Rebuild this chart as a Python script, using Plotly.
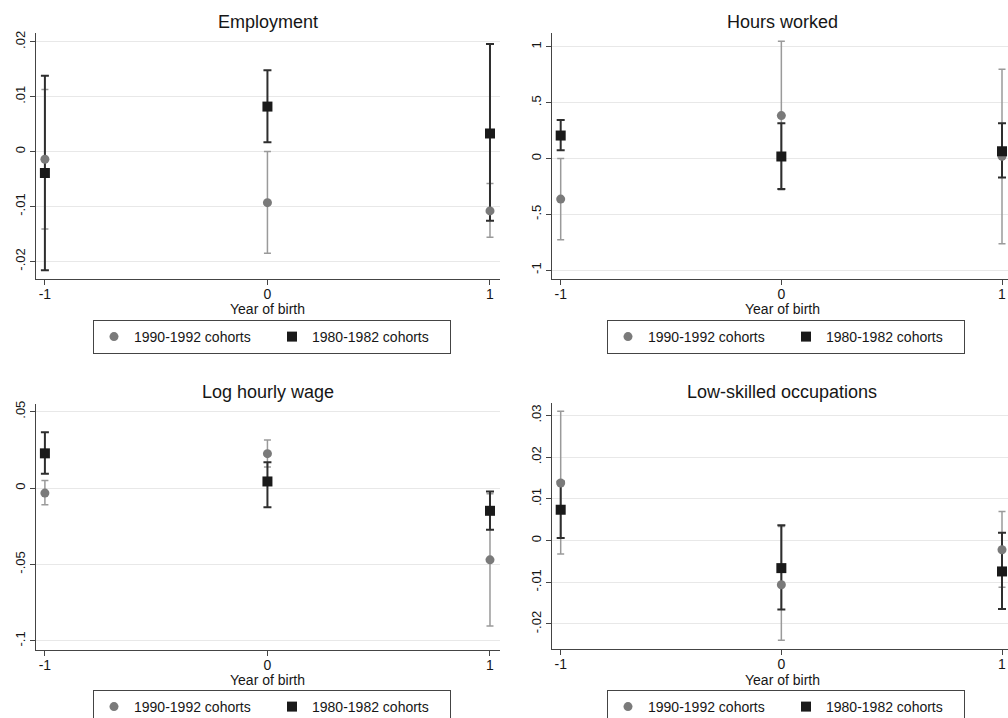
import plotly.graph_objects as go

# ---------------- data ----------------
years = [-1, 0, 1]
series_names = ["1990-1992 cohorts", "1980-1982 cohorts"]
panel_titles = ["Employment", "Hours worked", "Log hourly wage", "Low-skilled occupations"]

# Employment
emp_g_est = [-0.0014, -0.0093, -0.0108]
emp_g_lo = [-0.0141, -0.0185, -0.0156]
emp_g_hi = [0.0113, 0.0000, -0.0058]
emp_b_est = [-0.0039, 0.0082, 0.0033]
emp_b_lo = [-0.0216, 0.0017, -0.0126]
emp_b_hi = [0.0138, 0.0148, 0.0196]

# Hours worked
hrs_g_est = [-0.364, 0.385, 0.02]
hrs_g_lo = [-0.728, -0.28, -0.764]
hrs_g_hi = [0.0, 1.05, 0.80]
hrs_b_est = [0.206, 0.018, 0.065]
hrs_b_lo = [0.075, -0.274, -0.17]
hrs_b_hi = [0.346, 0.317, 0.317]

# Log hourly wage
wag_g_est = [-0.0033, 0.0225, -0.047]
wag_g_lo = [-0.011, 0.0138, -0.0903]
wag_g_hi = [0.005, 0.0315, -0.0037]
wag_b_est = [0.0227, 0.0043, -0.0149]
wag_b_lo = [0.0094, -0.0125, -0.0273]
wag_b_hi = [0.0365, 0.0168, -0.0022]

# Low-skilled occupations
low_g_est = [0.0138, -0.0106, -0.0022]
low_g_lo = [-0.0032, -0.0239, -0.0112]
low_g_hi = [0.031, 0.0034, 0.007]
low_b_est = [0.0074, -0.0066, -0.0074]
low_b_lo = [0.0006, -0.0165, -0.0164]
low_b_hi = [0.0142, 0.0037, 0.0019]

# tick labels
x_tickvals = [-1, 0, 1]
x_ticktext = ["-1", "0", "1"]
y_ticks = [
    ([-0.02, -0.01, 0, 0.01, 0.02], ["-.02", "-.01", "0", ".01", ".02"]),
    ([-1, -0.5, 0, 0.5, 1], ["-1", "-.5", "0", ".5", "1"]),
    ([-0.1, -0.05, 0, 0.05], ["-.1", "-.05", "0", ".05"]),
    ([-0.02, -0.01, 0, 0.01, 0.02, 0.03], ["-.02", "-.01", "0", ".01", ".02", ".03"]),
]

panels = [
    (emp_g_est, emp_g_lo, emp_g_hi, emp_b_est, emp_b_lo, emp_b_hi),
    (hrs_g_est, hrs_g_lo, hrs_g_hi, hrs_b_est, hrs_b_lo, hrs_b_hi),
    (wag_g_est, wag_g_lo, wag_g_hi, wag_b_est, wag_b_lo, wag_b_hi),
    (low_g_est, low_g_lo, low_g_hi, low_b_est, low_b_lo, low_b_hi),
]

# ---------------- layout geometry ----------------
W, H = 1008, 718
FONT = "Liberation Sans, Arial, sans-serif"
TXT = "#161616"
GRAY_M = "#7a7a7a"
GRAY_E = "#9a9a9a"
BLACK_M = "#1a1a1a"
BLACK_E = "#2e2e2e"

# plot areas in px: (left, right, top, bottom)
areas = [(36, 500, 33, 279), (552, 1008, 33, 279), (36, 500, 404, 650), (552, 1008, 403, 649)]
x_ranges = [[-1.04, 1.045], [-1.0394, 1.0272], [-1.04, 1.045], [-1.0394, 1.0272]]
y_ranges = [[-0.0232, 0.0216], [-1.08, 1.125], [-0.106, 0.055], [-0.026, 0.033]]
title_pos = [(268, 22), (782, 22), (268, 392), (782, 392)]
xlab_pos = [(267, 309), (782, 309), (267, 680), (782, 680)]
legend_pos = [(93, 320), (607, 320), (93, 690), (607, 690)]

fig = go.Figure()

for i, (g_est, g_lo, g_hi, b_est, b_lo, b_hi) in enumerate(panels):
    sfx = "" if i == 0 else str(i + 1)
    xa, ya = "x" + sfx, "y" + sfx
    leg = "legend" + sfx
    g_plus = [h - e for h, e in zip(g_hi, g_est)]
    g_minus = [e - l for e, l in zip(g_est, g_lo)]
    b_plus = [h - e for h, e in zip(b_hi, b_est)]
    b_minus = [e - l for e, l in zip(b_est, b_lo)]
    # error bars (caps) first
    fig.add_trace(go.Scatter(
        x=years, y=g_est, mode="markers", xaxis=xa, yaxis=ya, showlegend=False,
        marker=dict(color="rgba(0,0,0,0)", size=2),
        error_y=dict(type="data", symmetric=False, array=g_plus, arrayminus=g_minus,
                     color=GRAY_E, thickness=1.5, width=3.5),
        hoverinfo="skip"))
    fig.add_trace(go.Scatter(
        x=years, y=b_est, mode="markers", xaxis=xa, yaxis=ya, showlegend=False,
        marker=dict(color="rgba(0,0,0,0)", size=2),
        error_y=dict(type="data", symmetric=False, array=b_plus, arrayminus=b_minus,
                     color=BLACK_E, thickness=2, width=4),
        hoverinfo="skip"))
    # markers
    fig.add_trace(go.Scatter(
        x=years, y=g_est, mode="markers", xaxis=xa, yaxis=ya, name=series_names[0],
        legend=leg, marker=dict(symbol="circle", color=GRAY_M, size=9, line=dict(width=0))))
    fig.add_trace(go.Scatter(
        x=years, y=b_est, mode="markers", xaxis=xa, yaxis=ya, name=series_names[1],
        legend=leg, marker=dict(symbol="square", color=BLACK_M, size=10, line=dict(width=0))))

layout = dict(
    width=W, height=H,
    margin=dict(l=0, r=0, t=0, b=0, autoexpand=False),
    paper_bgcolor="white", plot_bgcolor="white",
    font=dict(family=FONT, color=TXT),
    showlegend=True,
    annotations=[],
)

for i in range(4):
    sfx = "" if i == 0 else str(i + 1)
    l, r, t, b = areas[i]
    layout["xaxis" + sfx] = dict(
        domain=[l / W, r / W], anchor="y" + sfx, range=x_ranges[i],
        tickvals=x_tickvals, ticktext=x_ticktext, ticks="outside", ticklen=5,
        tickcolor="#444", tickwidth=1, showgrid=False, zeroline=False,
        showline=True, linecolor="#444", linewidth=1.2, ticklabelstandoff=-3,
        ticklabeloverflow="allow",
        tickfont=dict(size=14, color=TXT, family=FONT), fixedrange=True)
    tv, tt = y_ticks[i]
    layout["yaxis" + sfx] = dict(
        domain=[1 - b / H, 1 - t / H], anchor="x" + sfx, range=y_ranges[i],
        tickvals=tv, ticktext=tt, ticks="outside", ticklen=5, tickangle=-90,
        tickcolor="#444", tickwidth=1, showgrid=True, gridcolor="#e8e8e8", gridwidth=1,
        zeroline=False, showline=True, linecolor="#444", linewidth=1.2,
        tickfont=dict(size=13, color=TXT, family=FONT), fixedrange=True)
    tx, ty = title_pos[i]
    layout["annotations"].append(dict(
        text=panel_titles[i], x=tx / W, y=1 - ty / H, xref="paper", yref="paper",
        xanchor="center", yanchor="middle", showarrow=False,
        font=dict(size=18, color=TXT, family=FONT)))
    lx, ly = xlab_pos[i]
    layout["annotations"].append(dict(
        text="Year of birth", x=lx / W, y=1 - ly / H, xref="paper", yref="paper",
        xanchor="center", yanchor="middle", showarrow=False,
        font=dict(size=14, color=TXT, family=FONT)))
    gx, gy = legend_pos[i]
    layout["legend" + sfx] = dict(
        x=gx / W, y=1 - gy / H, xanchor="left", yanchor="top", orientation="h",
        bordercolor="#444", borderwidth=1, bgcolor="white",
        font=dict(size=14, color=TXT, family=FONT),
        entrywidth=133, entrywidthmode="pixels", itemwidth=30,
        tracegroupgap=0)

fig.update_layout(**layout)
fig.write_html("out.html")
